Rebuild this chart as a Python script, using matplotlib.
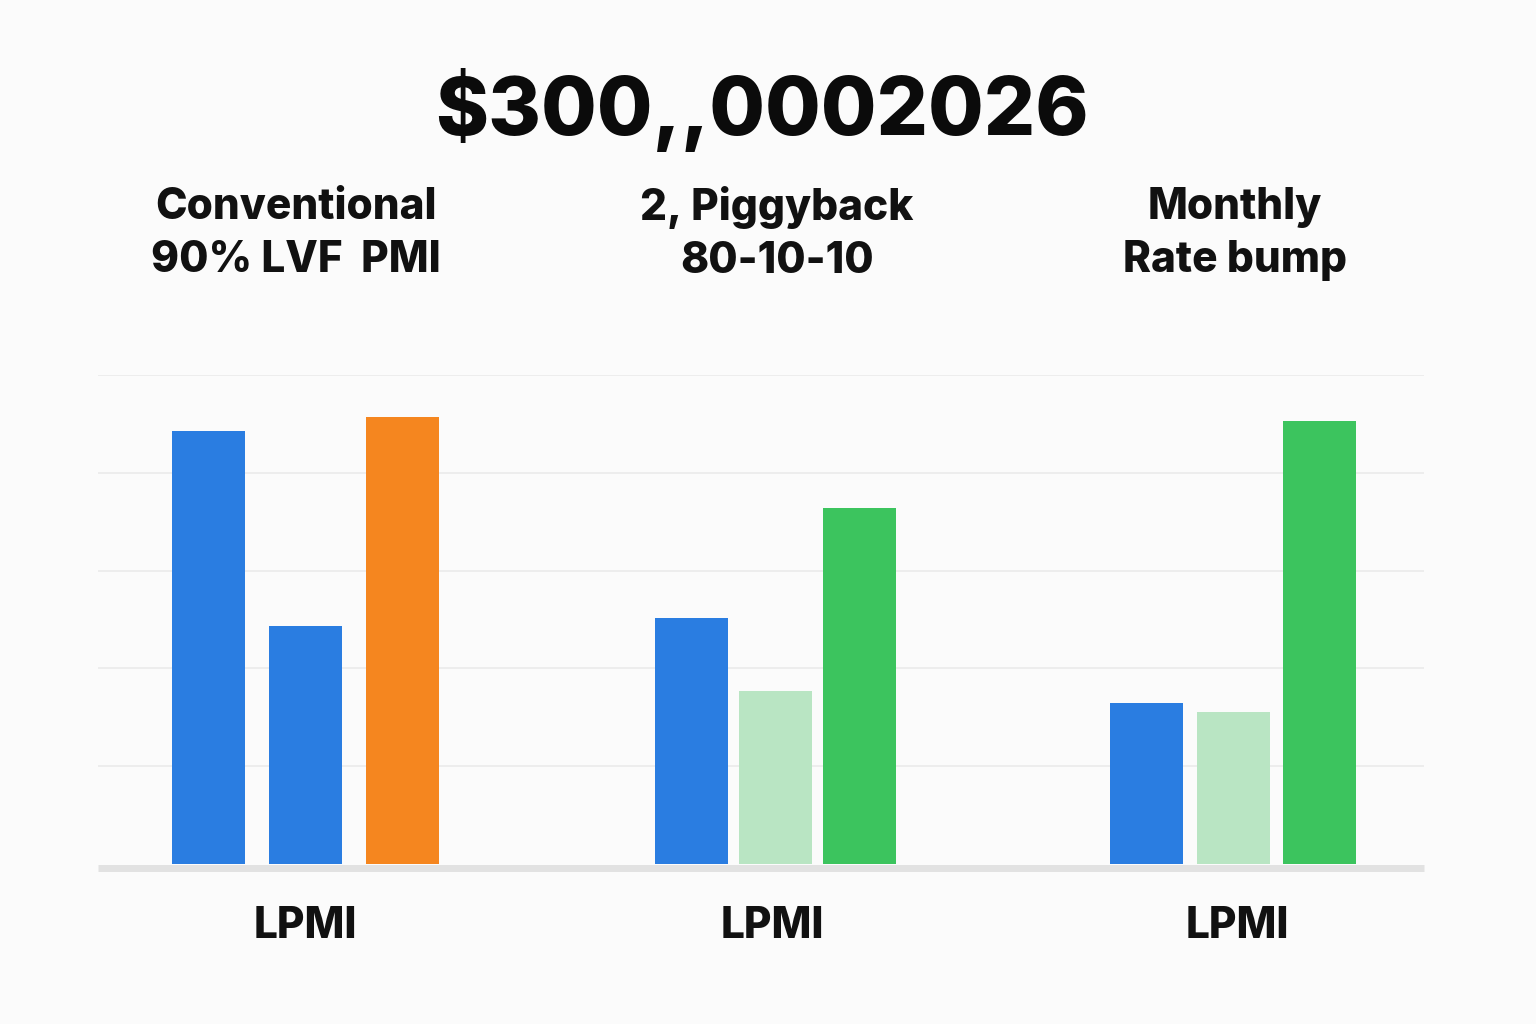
import numpy as np
from matplotlib import pyplot as plt

plt.rcParams['font.family'] = ['Inter', 'DejaVu Sans']

title = '$300,,0002026'
group_headers = ['Conventional\n90% LVF  PMI', '2, Piggyback\n80-10-10', 'Monthly\nRate bump']
group_labels = ['LPMI', 'LPMI', 'LPMI']
values = [
    [4.43, 2.43, 4.57],
    [2.52, 1.77, 3.64],
    [1.65, 1.55, 4.53],
]
bar_colors = [
    ['#2A7DE1', '#2A7DE1', '#F5861F'],
    ['#2A7DE1', '#B9E5C3', '#3CC45E'],
    ['#2A7DE1', '#B9E5C3', '#3CC45E'],
]

# layout (pixel-like x units across the axes)
group_centers = [305, 775, 1233]
group_pitch = [97, 84, 86.5]
bar_width = 73
bg = '#FBFBFB'

fig = plt.figure(figsize=(15.36, 10.24), dpi=100, facecolor=bg)
ax = fig.add_axes([98 / 1536, 1 - 864 / 1024, (1424 - 98) / 1536, (864 - 375) / 1024])
ax.set_facecolor(bg)
ax.set_xlim(98, 1424)
ax.set_ylim(0, 5)

for g, vals in enumerate(values):
    xs = group_centers[g] + (np.arange(len(vals)) - 1) * group_pitch[g]
    ax.bar(xs, vals, width=bar_width, color=bar_colors[g], zorder=2)

ax.set_yticks(np.arange(1, 6))
ax.yaxis.grid(True, color='#EBEBEB', linewidth=1.2, zorder=0)
ax.tick_params(left=False, bottom=False, labelleft=False, labelbottom=False)
for s in ['top', 'right', 'left']:
    ax.spines[s].set_visible(False)
ax.spines['bottom'].set_color('#E2E2E2')
ax.spines['bottom'].set_linewidth(5)
ax.spines['bottom'].set_capstyle('butt')
ax.spines['bottom'].set_position(('outward', 3))

fig.text(762 / 1536, 1 - 110 / 1024, title, ha='center', va='center',
         fontsize=58, fontweight='heavy', color='#0B0B0B')

header_x = [296, 777, 1235]
for x, h in zip(header_x, group_headers):
    fig.text(x / 1536, 1 - 234 / 1024, h, ha='center', va='center',
             fontsize=30.5, fontweight='heavy', color='#111111', linespacing=1.38)

label_x = [305, 772, 1237]
for x, lab in zip(label_x, group_labels):
    fig.text(x / 1536, 1 - 926 / 1024, lab, ha='center', va='center',
             fontsize=30.5, fontweight='heavy', color='#111111')

fig.savefig('out.png', dpi=100, facecolor=bg)
